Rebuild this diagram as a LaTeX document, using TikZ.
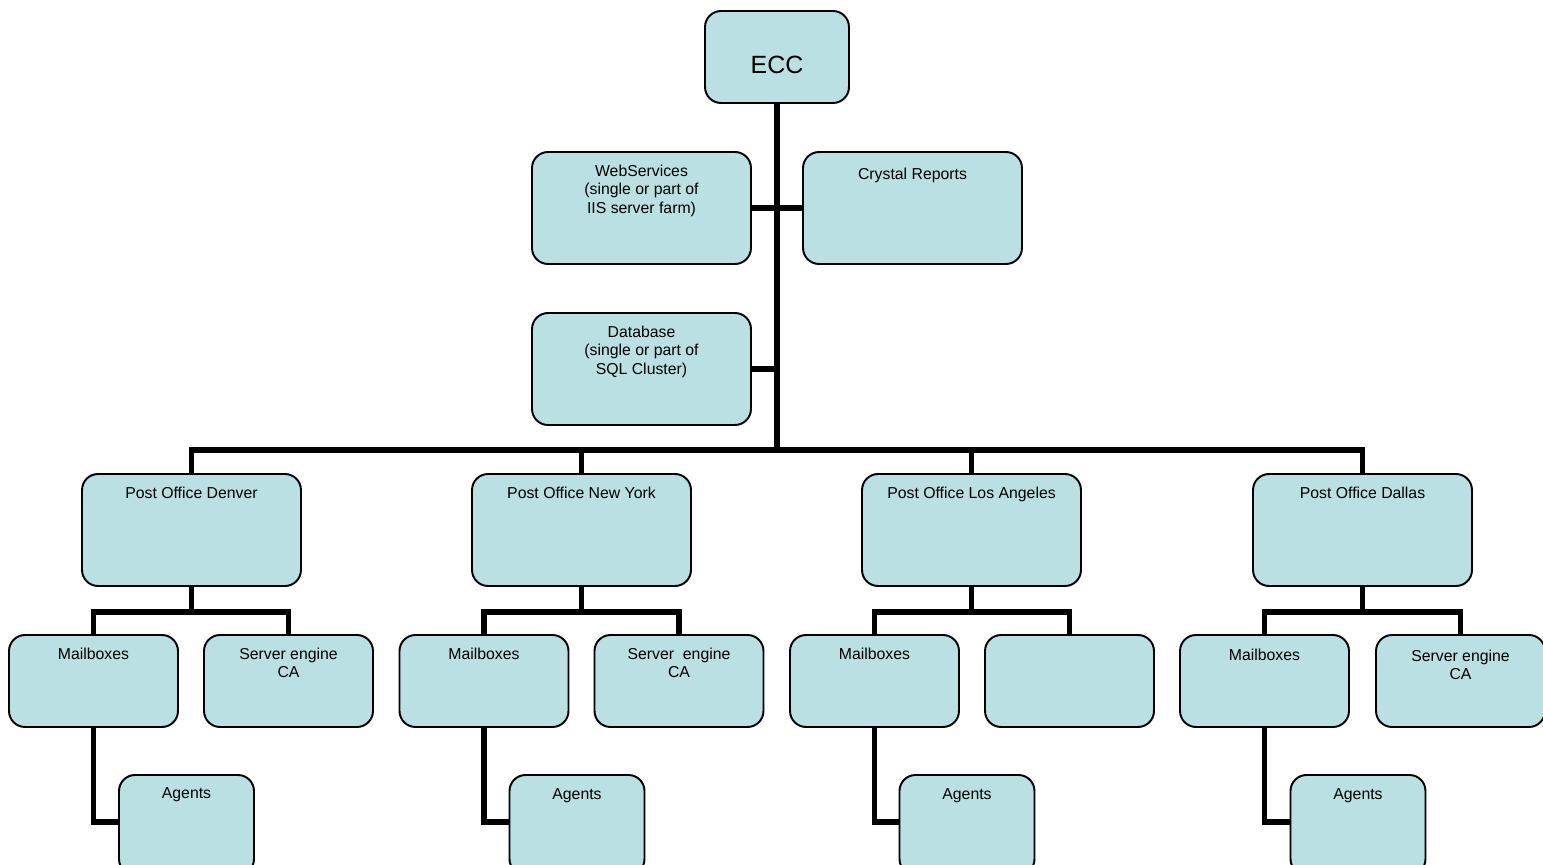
\documentclass[tikz,border=0pt]{standalone}
\usepackage{fontspec}
\setmainfont{Liberation Sans}
\definecolor{boxfill}{RGB}{187,224,227}
\tikzset{
  box/.style={draw=black, line width=1.1pt, fill=boxfill, rounded corners=0.32cm, inner sep=0pt},
  bigbox/.style={box, minimum width=4.38cm, minimum height=2.24cm},
  smallbox/.style={box, minimum width=3.38cm, minimum height=1.84cm},
  agbox/.style={box, minimum width=2.7cm, minimum height=2.0cm},
  lbl/.style={anchor=north, inner sep=0pt, align=center, font=\fontsize{9}{10.6}\selectfont},
  conn/.style={draw=black, line width=3.3pt}
}
\begin{document}
\begin{tikzpicture}[x=0.02cm, y=-0.02cm]
\useasboundingbox (0,0) rectangle (1543,865);
\clip (0,0) rectangle (1543,865);
% top level
\node[box, minimum width=2.88cm, minimum height=1.84cm] (ecc) at (777,57) {};
\node[inner sep=0pt, font=\fontsize{14.2}{16}\selectfont] (ecct) at (777,65) {ECC};
\node[bigbox] (web) at (641.5,208) {};
\node[lbl] (webt) at ([yshift=-0.27cm]web.north) {WebServices\\(single or part of\\IIS server farm)};
\node[bigbox] (cry) at (912.5,208) {};
\node[lbl] (cryt) at ([yshift=-0.33cm]cry.north) {Crystal Reports};
\node[bigbox] (db) at (641.5,369) {};
\node[lbl] (dbt) at ([yshift=-0.27cm]db.north) {Database\\(single or part of\\SQL Cluster)};
% post offices
\node[bigbox] (po1) at (191.5,530) {};
\node[lbl] (po1t) at ([yshift=-0.27cm]po1.north) {Post Office Denver};
\node[bigbox] (po2) at (581.5,530) {};
\node[lbl] (po2t) at ([yshift=-0.27cm]po2.north) {Post Office New York};
\node[bigbox] (po3) at (971.5,530) {};
\node[lbl] (po3t) at ([yshift=-0.27cm]po3.north) {Post Office Los Angeles};
\node[bigbox] (po4) at (1362.5,530) {};
\node[lbl] (po4t) at ([yshift=-0.27cm]po4.north) {Post Office Dallas};
% second level
\node[smallbox] (mb1) at (93.5,681) {};
\node[lbl] (mb1t) at ([yshift=-0.27cm]mb1.north) {Mailboxes};
\node[smallbox] (se1) at (288.5,681) {};
\node[lbl] (se1t) at ([yshift=-0.27cm]se1.north) {Server engine\\CA};
\node[smallbox] (mb2) at (484,681) {};
\node[lbl] (mb2t) at ([yshift=-0.27cm]mb2.north) {Mailboxes};
\node[smallbox] (se2) at (679,681) {};
\node[lbl] (se2t) at ([yshift=-0.27cm]se2.north) {Server\ \ engine\\CA};
\node[smallbox] (mb3) at (874.5,681) {};
\node[lbl] (mb3t) at ([yshift=-0.27cm]mb3.north) {Mailboxes};
\node[smallbox] (se3) at (1069.5,681) {};
\node[smallbox] (mb4) at (1264.5,681) {};
\node[lbl] (mb4t) at ([yshift=-0.29cm]mb4.north) {Mailboxes};
\node[smallbox] (se4) at (1460.5,681) {};
\node[lbl] (se4t) at ([yshift=-0.31cm]se4.north) {Server engine\\CA};
% agents
\node[agbox] (ag1) at (186.5,825) {};
\node[lbl] (ag1t) at ([yshift=-0.27cm]ag1.north) {Agents};
\node[agbox] (ag2) at (577,825) {};
\node[lbl] (ag2t) at ([yshift=-0.29cm]ag2.north) {Agents};
\node[agbox] (ag3) at (967,825) {};
\node[lbl] (ag3t) at ([yshift=-0.29cm]ag3.north) {Agents};
\node[agbox] (ag4) at (1358,825) {};
\node[lbl] (ag4t) at ([yshift=-0.29cm]ag4.north) {Agents};
% connectors
\coordinate (bus) at (777,450);
\draw[conn] (ecc.south) -- (bus);
\draw[conn] (web.east) -- (cry.west);
\draw[conn] (db.east) -- (db.east -| ecc.south);
\draw[conn] (po1.north) |- (bus) -| (po4.north);
\draw[conn] (po2.north) -- (po2.north |- bus);
\draw[conn] (po3.north) -- (po3.north |- bus);
\foreach \i in {1,2,3,4}{
  \draw[conn] (po\i.south) -- (po\i.south |- 0,612);
  \draw[conn] (mb\i.north) |- (se\i.north |- 0,612) -- (se\i.north);
  \draw[conn] (mb\i.south) |- (ag\i.west |- 0,822);
}
\end{tikzpicture}
\end{document}
